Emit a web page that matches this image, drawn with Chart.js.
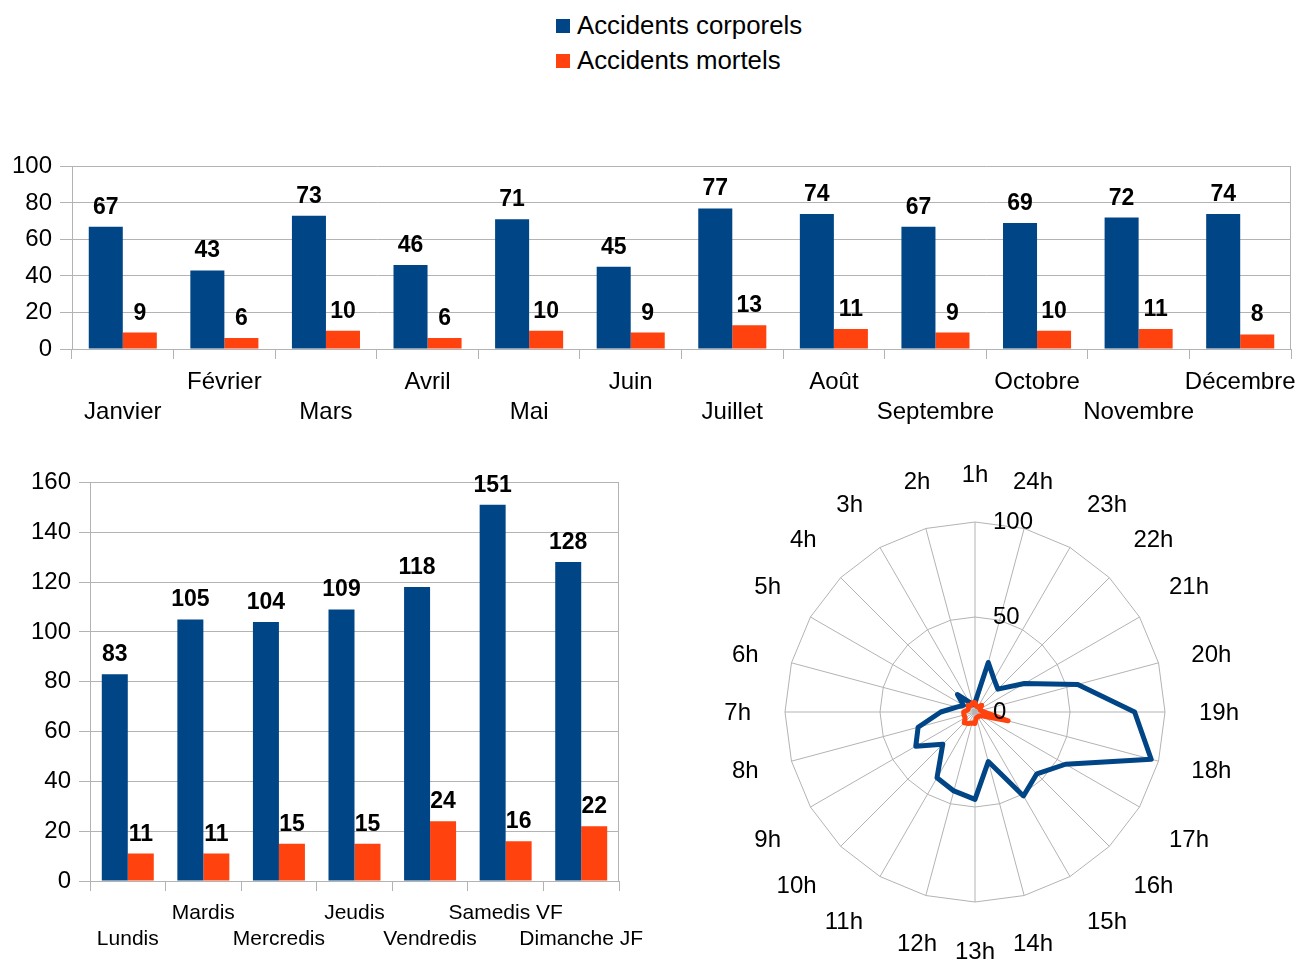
<!DOCTYPE html>
<html><head><meta charset="utf-8">
<script src="https://cdn.jsdelivr.net/npm/chart.js@4.4.0/dist/chart.umd.min.js"></script>
<style>
html,body{margin:0;padding:0;background:#fff;overflow:hidden;width:1302px;height:960px;}
body{position:relative;font-family:"Liberation Sans",Arial,sans-serif;}
canvas{position:absolute;}
#legend{position:absolute;left:556px;top:8px;font-size:25.8px;color:#000;line-height:35px;}
.item{display:flex;align-items:center;height:35px;white-space:nowrap;}
.sw{width:14px;height:14px;margin-right:7px;flex:none;}
</style></head><body>
<div id="legend"></div>
<canvas id="c1" style="left:0;top:144px" width="1320" height="296"></canvas>
<canvas id="c2" style="left:0;top:460px" width="660" height="500"></canvas>
<canvas id="c3" style="left:718px;top:448px" width="528" height="528"></canvas>
<script>
const seriesNames = ['Accidents corporels', 'Accidents mortels'];
const seriesColors = ['#004586', '#ff420e'];

const mois = ['Janvier','Février','Mars','Avril','Mai','Juin','Juillet','Août','Septembre','Octobre','Novembre','Décembre'];
const corporelsMois = [67, 43, 73, 46, 71, 45, 77, 74, 67, 69, 72, 74];
const mortelsMois = [9, 6, 10, 6, 10, 9, 13, 11, 9, 10, 11, 8];
const moisTicks = [0, 20, 40, 60, 80, 100];

const jours = ['Lundis','Mardis','Mercredis','Jeudis','Vendredis','Samedis VF','Dimanche JF'];
const corporelsJours = [83, 105, 104, 109, 118, 151, 128];
const mortelsJours = [11, 11, 15, 15, 24, 16, 22];
const joursTicks = [0, 20, 40, 60, 80, 100, 120, 140, 160];

const heures = ['1h','2h','3h','4h','5h','6h','7h','8h','9h','10h','11h','12h','13h','14h','15h','16h','17h','18h','19h','20h','21h','22h','23h','24h'];
const corporelsHeures = [5, 4, 6, 13, 7, 10, 18, 31, 36, 24, 40, 43, 46, 27, 51, 46, 55, 96, 84, 56, 30, 17, 20, 27];
const mortelsHeures = [5, 5, 4, 5, 4, 4, 6, 6, 6, 8, 7, 6, 6, 3, 3, 3, 4, 18, 5, 3, 3, 5, 3, 3];
const heuresTicks = [0, 50, 100];

const GRID = '#b3b3b3';
const FONT = '"Liberation Sans", Arial, sans-serif';
Chart.defaults.font.family = FONT;
Chart.defaults.color = '#000';

// HTML legend
const legend = document.getElementById('legend');
seriesNames.forEach((n, i) => {
  const d = document.createElement('div'); d.className = 'item';
  const s = document.createElement('span'); s.className = 'sw'; s.style.background = seriesColors[i];
  const t = document.createElement('span'); t.textContent = n;
  d.appendChild(s); d.appendChild(t); legend.appendChild(d);
});

const valueLabels = {
  id: 'valueLabels',
  afterDatasetsDraw(chart) {
    const ctx = chart.ctx;
    ctx.save();
    ctx.font = 'bold 23px ' + FONT;
    ctx.fillStyle = '#000';
    ctx.textAlign = 'center';
    ctx.textBaseline = 'alphabetic';
    chart.data.datasets.forEach((ds, i) => {
      chart.getDatasetMeta(i).data.forEach((el, j) => {
        ctx.fillText(String(ds.data[j]), el.x, el.y - 13);
      });
    });
    ctx.restore();
  }
};
const rightBorder = {
  id: 'rightBorder',
  afterDraw(chart) {
    const a = chart.chartArea, ctx = chart.ctx;
    ctx.save();
    ctx.strokeStyle = GRID; ctx.lineWidth = 1;
    const x = Math.round(a.right) - 0.5;
    ctx.beginPath(); ctx.moveTo(x, a.top); ctx.lineTo(x, a.bottom); ctx.stroke();
    ctx.restore();
  }
};

function stagger(labels) {
  return labels.map((l, i) => (i % 2 === 0 ? ['', l] : [l]));
}

function barChart(id, labels, d1, d2, ticks, o) {
  return new Chart(document.getElementById(id), {
    type: 'bar',
    data: {
      labels: stagger(labels),
      datasets: [
        { label: seriesNames[0], data: d1, backgroundColor: seriesColors[0], borderWidth: 0, barPercentage: 1, categoryPercentage: o.cat },
        { label: seriesNames[1], data: d2, backgroundColor: seriesColors[1], borderWidth: 0, barPercentage: 1, categoryPercentage: o.cat }
      ]
    },
    options: {
      responsive: false, animation: false,
      layout: { padding: { top: o.top, right: o.right, left: 0, bottom: 0 } },
      plugins: { legend: { display: false }, tooltip: { enabled: false } },
      scales: {
        x: {
          offset: true,
          grid: { offset: true, drawOnChartArea: false, drawTicks: true, tickLength: 10, color: GRID },
          border: { color: GRID },
          ticks: { autoSkip: false, maxRotation: 0, minRotation: 0, padding: o.xpad, color: '#000', font: { size: o.xfont, lineHeight: o.xlh } },
          afterFit(s) { s.height = o.xh; }
        },
        y: {
          min: ticks[0], max: ticks[ticks.length - 1],
          afterBuildTicks(s) { s.ticks = ticks.map(v => ({ value: v })); },
          grid: { color: GRID, tickLength: o.ytl },
          border: { color: GRID },
          ticks: { padding: 8, color: '#000', font: { size: 24 } },
          afterFit(s) { s.width = o.yw; }
        }
      }
    },
    plugins: [valueLabels, rightBorder]
  });
}

barChart('c1', mois, corporelsMois, mortelsMois, moisTicks,
  { cat: 0.67, top: 22, right: 29, xh: 91, yw: 72, ytl: 12, xpad: 8, xfont: 24, xlh: 1.25 });
barChart('c2', jours, corporelsJours, mortelsJours, joursTicks,
  { cat: 0.688, top: 22, right: 41, xh: 79, yw: 90, ytl: 11, xpad: 10, xfont: 21, xlh: 1.2 });

// Radar: clockwise from top: 1h, 24h, 23h, ... 2h
const radarOrder = [0].concat(heures.map((_, i) => heures.length - 1 - i).slice(0, heures.length - 1));
const radarLabels = radarOrder.map(i => heures[i]);
const radarBlue = radarOrder.map(i => corporelsHeures[i]);
const radarRed = radarOrder.map(i => mortelsHeures[i]);

const radarText = {
  id: 'radarText',
  afterDraw(chart) {
    const s = chart.scales.r, ctx = chart.ctx;
    ctx.save();
    ctx.font = '24px ' + FONT;
    ctx.fillStyle = '#000';
    ctx.textBaseline = 'middle';
    // tick values
    ctx.textAlign = 'left';
    heuresTicks.forEach(v => {
      ctx.fillText(String(v), s.xCenter + 18, s.yCenter - s.getDistanceFromCenterForValue(v));
    });
    // hour labels anchored just outside the outer ring
    const n = radarLabels.length;
    const R = s.drawingArea + 34;
    const half = 14.5;
    radarLabels.forEach((lab, i) => {
      const ang = i * 2 * Math.PI / n;
      const deg = Math.round(ang * 180 / Math.PI) % 360;
      const ax = s.xCenter + R * Math.sin(ang);
      const ay = s.yCenter - R * Math.cos(ang);
      let align, dy;
      if (deg <= 15 || deg >= 345 || (deg >= 165 && deg <= 195)) align = 'center';
      else if (deg < 180) align = 'left';
      else align = 'right';
      if ((deg >= 75 && deg <= 105) || (deg >= 255 && deg <= 285)) dy = 0;
      else if (deg < 90 || deg > 270) dy = -half;
      else dy = half;
      ctx.textAlign = align;
      ctx.fillText(lab, ax, ay + dy + 1.5);
    });
    ctx.restore();
  }
};

new Chart(document.getElementById('c3'), {
  type: 'radar',
  data: {
    labels: radarLabels,
    datasets: [
      { label: seriesNames[0], data: radarBlue, borderColor: seriesColors[0], backgroundColor: seriesColors[0], borderWidth: 5, pointRadius: 0, fill: false, tension: 0, borderJoinStyle: 'round', order: 1 },
      { label: seriesNames[1], data: radarRed, borderColor: seriesColors[1], backgroundColor: seriesColors[1], borderWidth: 5, pointRadius: 0, fill: false, tension: 0, borderJoinStyle: 'round', order: 0 }
    ]
  },
  options: {
    responsive: false, animation: false,
    layout: { padding: { left: 67, right: 81, top: 74, bottom: 74 } },
    plugins: { legend: { display: false }, tooltip: { enabled: false } },
    scales: {
      r: {
        min: 0, max: 100,
        ticks: { stepSize: 50, display: false },
        grid: { color: GRID },
        angleLines: { color: GRID },
        pointLabels: { display: false }
      }
    }
  },
  plugins: [radarText]
});
</script>
</body></html>
